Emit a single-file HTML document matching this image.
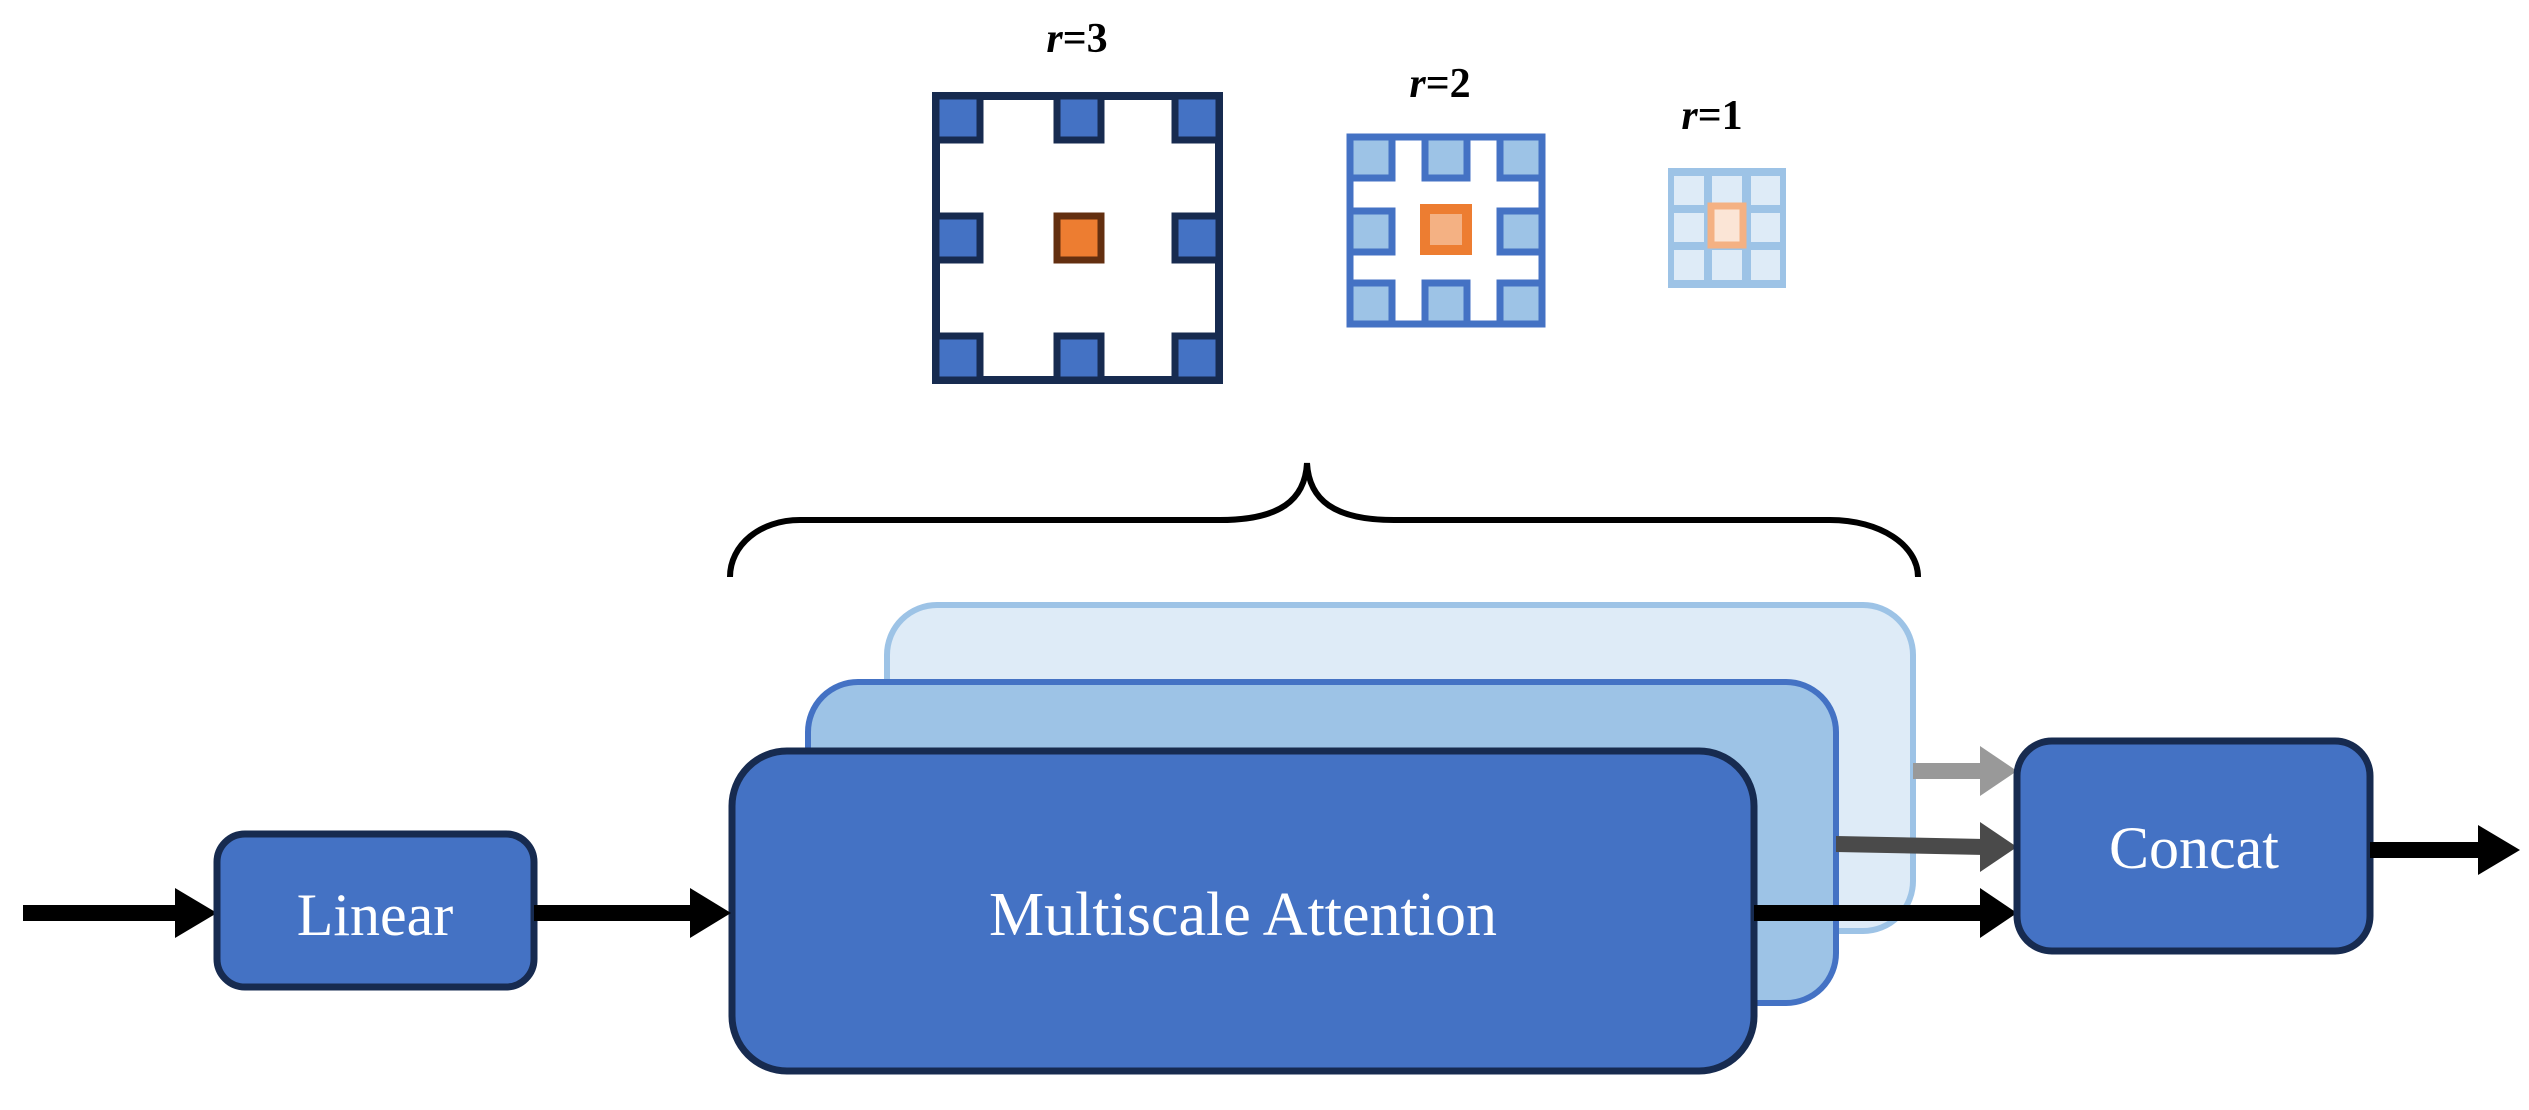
<!DOCTYPE html>
<html><head><meta charset="utf-8"><style>
html,body{margin:0;padding:0;background:#fff;}
svg{display:block;}
text{font-family:"Liberation Serif",serif;}
</style></head><body>
<svg width="2529" height="1110" viewBox="0 0 2529 1110" xmlns="http://www.w3.org/2000/svg">
<!-- labels -->
<text x="1077" y="52" font-size="42" font-weight="bold" text-anchor="middle"><tspan font-style="italic">r</tspan>=3</text>
<text x="1440" y="97" font-size="42" font-weight="bold" text-anchor="middle"><tspan font-style="italic">r</tspan>=2</text>
<text x="1712" y="129" font-size="42" font-weight="bold" text-anchor="middle"><tspan font-style="italic">r</tspan>=1</text>

<!-- r=3 grid -->
<g>
<rect x="936" y="96" width="283" height="284" fill="#fff" stroke="#172b50" stroke-width="8"/>
<g fill="#4472c4" stroke="#172b50" stroke-width="7">
<rect x="936" y="96" width="44" height="44"/>
<rect x="1057" y="96" width="44" height="44"/>
<rect x="1175" y="96" width="44" height="44"/>
<rect x="936" y="216" width="44" height="44"/>
<rect x="1175" y="216" width="44" height="44"/>
<rect x="936" y="336" width="44" height="44"/>
<rect x="1057" y="336" width="44" height="44"/>
<rect x="1175" y="336" width="44" height="44"/>
</g>
<rect x="1057" y="216" width="44" height="44" fill="#ed7d31" stroke="#632f10" stroke-width="7"/>
</g>

<!-- r=2 grid -->
<g>
<rect x="1350" y="137" width="192" height="187" fill="#fff" stroke="#4472c4" stroke-width="7"/>
<g fill="#9dc3e6" stroke="#4472c4" stroke-width="7">
<rect x="1350" y="137" width="42" height="41"/>
<rect x="1425" y="137" width="42" height="41"/>
<rect x="1500" y="137" width="42" height="41"/>
<rect x="1350" y="211" width="42" height="41"/>
<rect x="1500" y="211" width="42" height="41"/>
<rect x="1350" y="283" width="42" height="41"/>
<rect x="1425" y="283" width="42" height="41"/>
<rect x="1500" y="283" width="42" height="41"/>
</g>
<rect x="1425" y="209" width="42" height="41" fill="#f4b183" stroke="#ed7d31" stroke-width="10"/>
</g>

<!-- r=1 grid -->
<g>
<rect x="1668" y="168" width="118" height="120" fill="#9dc3e6"/>
<g fill="#deebf7">
<rect x="1674" y="176" width="30" height="29"/>
<rect x="1712" y="176" width="30" height="29"/>
<rect x="1751" y="176" width="29" height="29"/>
<rect x="1674" y="213" width="30" height="29"/>
<rect x="1751" y="213" width="29" height="29"/>
<rect x="1674" y="250" width="30" height="30"/>
<rect x="1712" y="250" width="30" height="30"/>
<rect x="1751" y="250" width="29" height="30"/>
</g>
<rect x="1711" y="206" width="32" height="39" fill="#fbe5d6" stroke="#f4b183" stroke-width="7"/>
</g>

<!-- brace -->
<path d="M730 577 C730 545 760 520 800 520 L1220 520 C1280 520 1305 500 1307 463 C1309 500 1334 520 1394 520 L1830 520 C1880 520 1918 545 1918 577" fill="none" stroke="#000" stroke-width="6"/>

<!-- back boxes -->
<rect x="887" y="605" width="1026" height="326" rx="50" fill="#deebf7" stroke="#9dc3e6" stroke-width="6"/>
<rect x="808" y="682" width="1028" height="321" rx="50" fill="#9dc3e6" stroke="#4472c4" stroke-width="6"/>

<!-- arrows to concat -->
<rect x="1913" y="763" width="70" height="16" fill="#999"/>
<polygon points="1980,746 2017,771 1980,796" fill="#999"/>
<polygon points="1836,836 1985,839 1985,855 1836,852" fill="#4a4a4a"/>
<polygon points="1980,822 2017,847 1980,872" fill="#4a4a4a"/>

<!-- front box -->
<rect x="732" y="751" width="1022" height="320" rx="55" fill="#4472c4" stroke="#172b50" stroke-width="7"/>
<text x="1243" y="935" font-size="62" fill="#fff" text-anchor="middle">Multiscale Attention</text>

<rect x="1754" y="905" width="230" height="16" fill="#000"/>
<polygon points="1980,888 2017,913 1980,938" fill="#000"/>

<!-- input arrow -->
<rect x="23" y="905" width="160" height="16" fill="#000"/>
<polygon points="175,888 217,913 175,938" fill="#000"/>

<!-- Linear -->
<rect x="217" y="834" width="317" height="153" rx="28" fill="#4472c4" stroke="#172b50" stroke-width="7"/>
<text x="375" y="935" font-size="60" fill="#fff" text-anchor="middle">Linear</text>

<rect x="534" y="905" width="160" height="16" fill="#000"/>
<polygon points="690,888 731,913 690,938" fill="#000"/>

<!-- Concat -->
<rect x="2017" y="741" width="353" height="210" rx="35" fill="#4472c4" stroke="#172b50" stroke-width="7"/>
<text x="2194" y="868" font-size="60" fill="#fff" text-anchor="middle">Concat</text>

<rect x="2370" y="842" width="112" height="16" fill="#000"/>
<polygon points="2478,825 2520,850 2478,875" fill="#000"/>
</svg>
</body></html>
